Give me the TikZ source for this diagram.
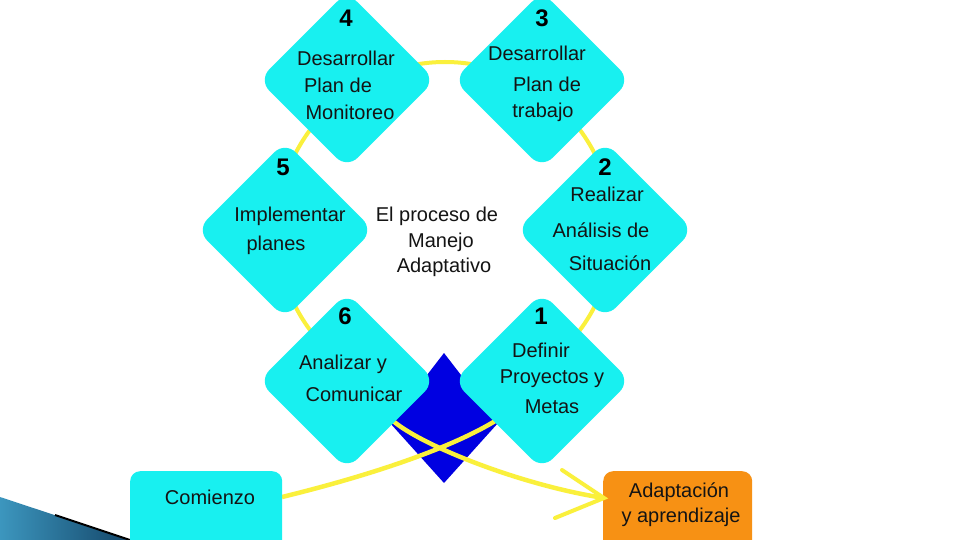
\documentclass[tikz,border=0pt]{standalone}
\usepackage{fontspec}
\setmainfont{Liberation Sans}
\definecolor{cy}{RGB}{24,240,240}
\definecolor{yl}{RGB}{250,240,60}
\definecolor{bl}{RGB}{0,0,225}
\definecolor{org}{RGB}{247,145,20}
\definecolor{tealA}{RGB}{60,150,190}
\definecolor{tealB}{RGB}{20,70,105}
\begin{document}
\begin{tikzpicture}[x=1pt,y=-1pt,
  dia/.style={fill=cy, draw=none, rounded corners=15pt, minimum size=125pt, rotate=45, inner sep=0pt},
  lbl/.style={font=\fontsize{20}{24}\selectfont, inner sep=0pt, text=black!92},
  num/.style={font=\fontsize{24}{28}\selectfont\bfseries, inner sep=0pt, text=black},
  ylw/.style={draw=yl, line width=4.5pt},
  boxc/.style={rounded corners=10pt, minimum height=90pt, anchor=north west, inner sep=0pt, draw=none},
]
\useasboundingbox (0,0) rectangle (960,540);
\fill[white] (0,0) rectangle (960,540);
% decorative wedge
\shade[left color=tealA, right color=tealB] (0,497) -- (130,540) -- (0,540) -- cycle;
\draw[black, line width=2pt] (55,515) -- (130,540);
% yellow circle
\coordinate (cc) at (445,230);
\draw[ylw, line width=4pt] (cc) circle[radius=168];
% blue diamond
\fill[bl] (444,353) -- (498,423) -- (444,483) -- (390,423) -- cycle;
% yellow curves
\coordinate (c1s) at (282,497);
\coordinate (c1e) at (500,418);
\coordinate (c2s) at (392,420);
\coordinate (tip) at (604,498);
\draw[ylw] (c1s) .. controls (360,478) and (450,450) .. (c1e);
\draw[ylw] (c2s) .. controls (420,445) and (520,485) .. (tip);
% diamonds
\node[dia] (d4) at (347,80) {};
\node[dia] (d3) at (542,80) {};
\node[dia] (d5) at (285,230) {};
\node[dia] (d2) at (605,230) {};
\node[dia] (d6) at (347,381) {};
\node[dia] (d1) at (542,381) {};
% boxes
\node[boxc, fill=cy, minimum width=152pt] (st) at (130,471) {};
\node[boxc, fill=org, minimum width=149pt] (ad) at (603,471) {};
% arrowhead
\coordinate (h1) at (562,470);
\coordinate (h2) at (555,518);
\draw[ylw, line width=4pt, line cap=round] (h1) -- (tip) -- (h2);
% numbers
\node[num] (n4) at (346,18) {4};
\node[num] (n3) at (542,18) {3};
\node[num] (n5) at (283,167) {5};
\node[num] (n2) at (605,167) {2};
\node[num] (n6) at (345,316) {6};
\node[num] (n1) at (541,316) {1};
% labels
\node[lbl] (t4a) at (346,58) {Desarrollar};
\node[lbl] (t4b) at (338,85) {Plan de};
\node[lbl] (t4c) at (350,112) {Monitoreo};
\node[lbl] (t3a) at (537,53) {Desarrollar};
\node[lbl] (t3b) at (547,84) {Plan de};
\node[lbl] (t3c) at (543,112) {trabajo};
\node[lbl] (t5a) at (290,216) {Implementar};
\node[lbl] (t5b) at (276,245) {planes};
\node[lbl] (tca) at (437,216) {El proceso de};
\node[lbl] (tcb) at (441,242) {Manejo};
\node[lbl] (tcc) at (444,267) {Adaptativo};
\node[lbl] (t2a) at (607,194) {Realizar};
\node[lbl] (t2b) at (601,230) {Análisis de};
\node[lbl] (t2c) at (610,263) {Situación};
\node[lbl] (t6a) at (343,364) {Analizar y};
\node[lbl] (t6b) at (354,394) {Comunicar};
\node[lbl] (t1a) at (541,350) {Definir};
\node[lbl] (t1b) at (552,379) {Proyectos y};
\node[lbl] (t1c) at (552,407) {Metas};
\node[lbl] (tst) at (210,497) {Comienzo};
\node[lbl] (tada) at (679,492) {Adaptación};
\node[lbl] (tadb) at (681,517) {y aprendizaje};
\end{tikzpicture}
\end{document}
